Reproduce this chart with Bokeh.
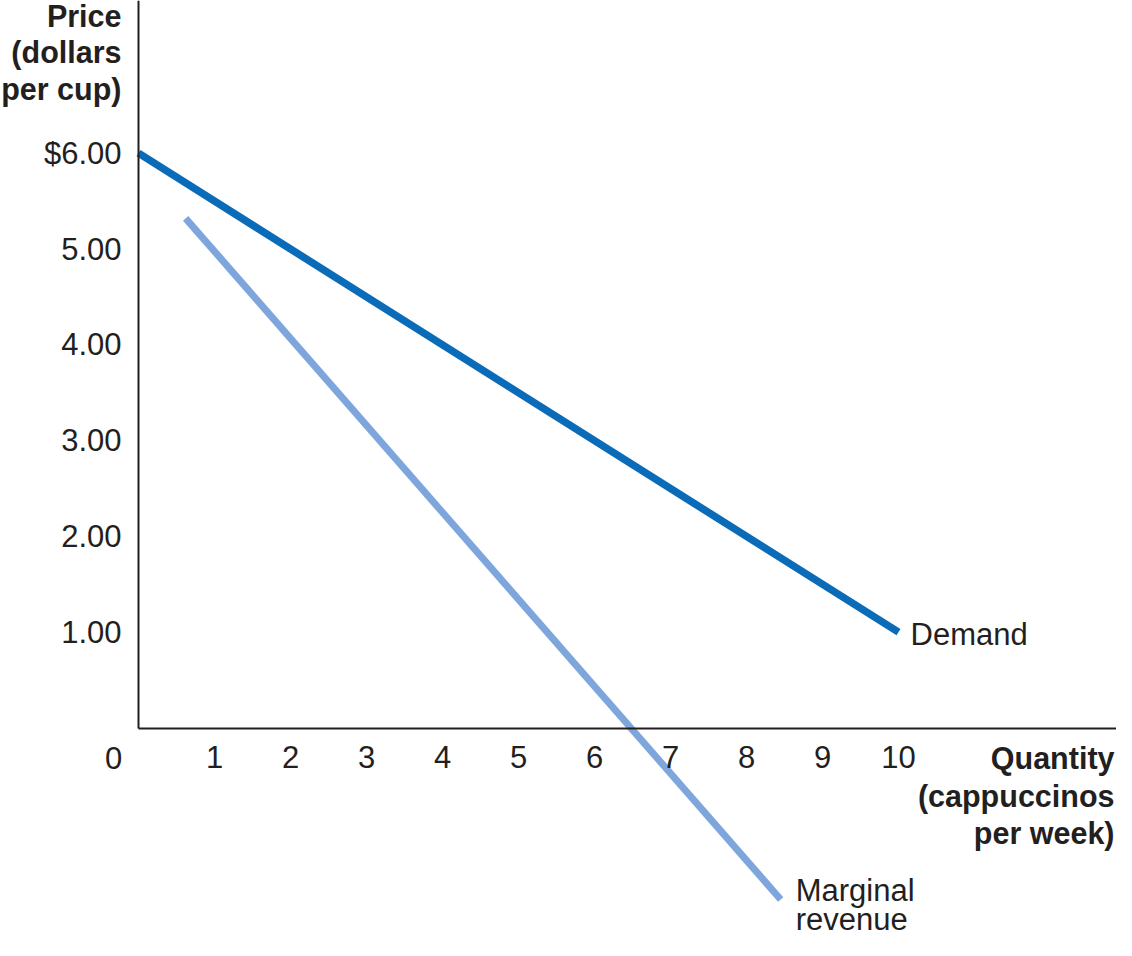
from bokeh.plotting import figure
from bokeh.models import Range1d, LinearAxis, FixedTicker
from bokeh.core.properties import value
from bokeh.embed import file_html
from bokeh.resources import INLINE

# demand and marginal revenue
demand_q = [0, 10]
demand_p = [6.0, 1.0]
mr_q = [0.62, 8.45]
mr_p = [5.32, -1.79]

price_ticks = [1, 2, 3, 4, 5, 6]
price_labels = ["1.00", "2.00", "3.00", "4.00", "5.00", "$6.00"]
qty_ticks = [1, 2, 3, 4, 5, 6, 7, 8, 9, 10]
qty_labels = ["1", "2", "3", "4", "5", "6", "7", "8", "9", "10"]

y_title = ["Price", "(dollars", "per cup)"]
x_title = ["Quantity", "(cappuccinos", "per week)"]
mr_label = ["Marginal", "revenue"]

FONT = "Liberation Sans"
INK = "#231f20"

W, H = 1116, 940
# 76 px per cup, 95.8 px per dollar, origin at (138, 727.5) in canvas px
PX_X, PX_Y = 76.0, 95.8
OX, OY = 138.0, 727.5

p = figure(width=W, height=H, output_backend="svg", toolbar_location=None,
           x_range=Range1d(-OX / PX_X, (W - OX) / PX_X),
           y_range=Range1d((OY - H) / PX_Y, OY / PX_Y),
           x_axis_location=None, y_axis_location=None,
           min_border=0, outline_line_color=None)
p.grid.visible = False

xa = LinearAxis(fixed_location=0, bounds=(0, (W - OX) / PX_X),
                ticker=FixedTicker(ticks=qty_ticks),
                major_label_overrides=dict(zip(qty_ticks, qty_labels)))
ya = LinearAxis(fixed_location=0, bounds=(0, OY / PX_Y),
                ticker=FixedTicker(ticks=price_ticks),
                major_label_overrides=dict(zip(price_ticks, price_labels)))
for ax in (xa, ya):
    ax.axis_line_color = INK
    ax.axis_line_width = 2
    ax.major_tick_in = 0
    ax.major_tick_out = 0
    ax.minor_tick_in = 0
    ax.minor_tick_out = 0
    ax.major_label_text_font = FONT
    ax.major_label_text_font_size = "31px"
    ax.major_label_text_color = INK
xa.major_label_standoff = 18
ya.major_label_standoff = 17
p.add_layout(xa, "below")
p.add_layout(ya, "left")

p.line(demand_q, demand_p, line_color="#0a6cb8", line_width=7.5)
p.line(mr_q, mr_p, line_color="#7ea6dc", line_width=7)

txt = dict(text_font=value(FONT), text_font_size="31px", text_color=INK)
bold = dict(text_font=value(FONT), text_font_size="30.5px", text_color=INK,
            text_font_style="bold")

# "0" at the origin, left of the y axis
p.text(x=[0], y=[0], text=["0"], text_align="center", text_baseline="middle",
       x_offset=-25, y_offset=30, **txt)

# axis titles
p.text(x=[0] * 3, y=[0] * 3, text=y_title, text_align="right", text_baseline="middle",
       x_offset=-17, y_offset=[15 - OY + i * 36.5 for i in range(3)], **bold)
p.text(x=[(W - 2 - OX) / PX_X] * 3, y=[0] * 3, text=x_title, text_align="right",
       text_baseline="middle", y_offset=[30 + i * 37.5 for i in range(3)], **bold)

# curve labels (raised a little so "revenue" stays inside the canvas)
p.text(x=[demand_q[-1]], y=[demand_p[-1]], text=["Demand"], text_align="left",
       text_baseline="middle", x_offset=12, y_offset=2, **txt)
p.text(x=[mr_q[-1]] * 2, y=[mr_p[-1]] * 2, text=mr_label, text_align="left",
       text_baseline="middle", x_offset=15, y_offset=[-9, 20], **txt)

open("out.html", "w").write(file_html(p, INLINE))
